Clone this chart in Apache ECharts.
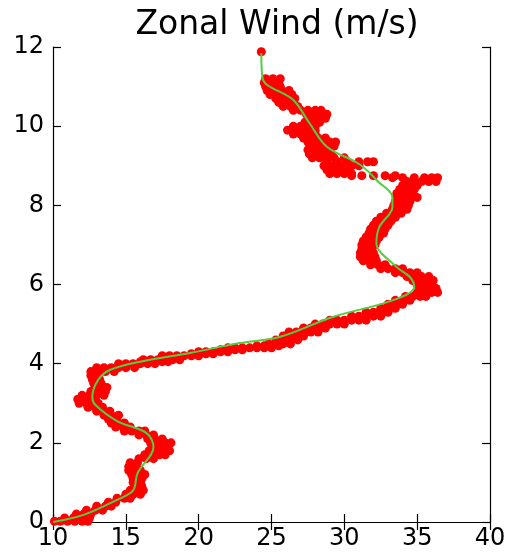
<!DOCTYPE html>
<html>
<head>
<meta charset="utf-8">
<script src="https://cdn.jsdelivr.net/npm/echarts@6/dist/echarts.min.js"></script>
<style>
  html, body { margin: 0; padding: 0; background: #fff; }
  #chart { width: 510px; height: 556px; }
</style>
</head>
<body>
<div id="chart"></div>
<script>
"use strict";

var titleText = "Zonal Wind (m/s)";
var xTicks = [10, 15, 20, 25, 30, 35, 40];
var yTicks = [0, 2, 4, 6, 8, 10, 12];

// observed wind (m/s), grouped by height level (km)
var obsLevels = [0.02, 0.1, 0.2, 0.3, 0.4, 0.5, 0.6, 0.7, 0.8, 0.9,
    1.0, 1.1, 1.2, 1.3, 1.4, 1.5, 1.6, 1.7, 1.8, 1.9,
    2.0, 2.1, 2.2, 2.3, 2.4, 2.5, 2.6, 2.7, 2.8, 2.9,
    3.0, 3.1, 3.2, 3.3, 3.4, 3.5, 3.6, 3.7, 3.8, 3.9,
    4.0, 4.05, 4.1, 4.2, 4.25, 4.3, 4.35, 4.4, 4.45, 4.5,
    4.6, 4.7, 4.8, 4.9, 5.0, 5.1, 5.2, 5.3, 5.4, 5.5,
    5.6, 5.7, 5.8, 5.9, 6.0, 6.1, 6.2, 6.3, 6.4, 6.5,
    6.6, 6.7, 6.8, 6.9, 7.0, 7.1, 7.2, 7.3, 7.4, 7.5,
    7.6, 7.7, 7.8, 7.9, 8.0, 8.1, 8.2, 8.3, 8.4, 8.5,
    8.6, 8.7, 8.75, 8.8, 8.9, 9.0, 9.1, 9.2, 9.3, 9.4,
    9.5, 9.6, 9.7, 9.8, 9.9, 10.0, 10.1, 10.2, 10.3, 10.4,
    10.5, 10.6, 10.7, 10.8, 10.9, 11.0, 11.1, 11.2, 11.88];
var obsWinds = [
    [10.1, 10.5, 11.0, 11.5, 12.0, 12.4], [10.8, 11.4, 12.0, 12.5], [11.6, 12.1, 12.6],
    [12.3, 12.9, 13.4], [13.0, 13.6, 14.0], [13.8, 14.3], [14.4, 14.9, 15.3],
    [15.0, 15.5, 16.0], [15.3, 15.8, 16.2], [15.6, 16.1],
    [15.5, 16.0], [15.5, 16.1], [15.4, 15.9, 16.3], [15.2, 15.7, 16.0], [15.2, 15.7],
    [15.3, 15.8], [15.9, 16.4, 16.9], [16.3, 16.8, 17.3, 17.7], [16.6, 17.1, 17.6, 18.0], [16.8, 17.3, 17.8],
    [16.7, 17.2, 17.7, 18.1], [16.5, 17.0, 17.5], [15.9, 16.4, 16.9], [14.9, 15.4, 15.9, 16.3], [14.3, 14.8, 15.3],
    [14.0, 14.5, 14.9], [13.8, 14.3], [13.5, 14.0, 14.5], [13.0, 13.5, 13.9], [12.4, 12.9, 13.4],
    [11.8, 12.3, 12.8, 13.1], [11.7, 12.2, 12.7], [12.0, 12.5, 13.0, 13.5], [12.6, 13.1, 13.6], [12.9, 13.4, 13.7],
    [12.8, 13.3], [12.7, 13.2], [12.6, 13.1], [12.6, 13.1, 13.6, 14.2], [13.0, 13.5, 14.0, 14.5, 15.0, 15.6],
    [14.5, 15.0, 15.5, 16.0, 16.5, 17.0], [16.0, 17.5, 17.9], [16.2, 16.7, 17.2, 17.7, 18.2, 18.7],
    [17.5, 18.0, 18.5, 19.0, 19.5, 20.0], [19.5, 20.5, 21.0], [20.0, 20.5, 21.0, 21.5, 22.0],
    [21.5, 22.0, 22.5, 23.0], [22.0, 22.5, 23.0, 23.5, 24.0, 24.5, 25.0], [24.0, 24.5, 25.0, 25.5],
    [24.8, 25.3, 25.8, 26.3],
    [25.3, 25.8, 26.3, 26.8], [25.8, 26.3, 26.8, 27.2], [26.2, 26.7, 27.2, 27.7, 28.2], [27.2, 27.7, 28.2, 28.7],
    [28.0, 28.5, 29.0, 29.5, 30.0], [29.0, 29.5, 30.0, 30.5, 31.0, 31.5], [30.5, 31.0, 31.5, 32.0, 32.5],
    [31.5, 32.0, 32.5, 33.0], [32.5, 33.0, 33.5], [33.0, 33.5, 34.0],
    [33.5, 34.0, 34.5], [34.2, 34.7, 35.2, 35.6], [35.0, 35.5, 36.0, 36.4], [35.3, 35.8, 36.3], [35.0, 35.5, 36.0],
    [34.7, 35.2, 35.7, 36.1], [34.3, 34.8, 35.3, 35.8], [33.5, 34.0, 34.5, 35.0], [32.5, 33.0, 33.5, 34.0],
    [31.8, 32.3, 32.8],
    [31.3, 31.8, 32.2], [31.1, 31.6, 32.1], [31.1, 31.6, 32.0], [31.2, 31.7], [31.2, 31.7, 32.1],
    [31.3, 31.8, 32.2], [31.5, 32.0, 32.4], [31.7, 32.2, 32.7], [31.8, 32.3, 32.8], [32.0, 32.5, 33.0],
    [32.2, 32.7, 33.2], [32.5, 33.0, 33.5], [32.9, 33.4, 33.9], [33.3, 33.8, 34.3], [33.4, 33.9, 34.4],
    [33.5, 34.0, 34.5], [33.6, 34.1, 34.6, 35.0], [33.6, 34.1, 34.6], [33.8, 34.3, 34.8], [34.0, 34.5, 35.0],
    [34.3, 34.8, 35.3, 35.8, 36.3], [33.3, 34.0, 34.8, 35.5, 36.0, 36.4], [30.5, 31.2, 32.0, 32.8, 33.5],
    [29.0, 29.5, 30.0, 30.5], [28.8, 29.3, 29.8, 30.3], [28.6, 29.2, 29.8, 30.5, 31.0],
    [28.8, 29.5, 30.2, 31.0, 31.6, 32.0], [27.8, 28.3, 28.8, 29.3, 30.0], [27.6, 28.1, 28.6, 29.1], [27.5, 28.0, 28.5, 29.0],
    [27.8, 28.3, 28.8, 29.3], [27.5, 28.0, 28.5, 29.0, 29.4], [27.2, 27.7, 28.2, 28.7], [26.5, 27.0, 27.5, 28.0],
    [26.1, 26.6, 27.1, 27.6, 28.0], [26.5, 27.0, 27.5, 28.0], [27.3, 27.8, 28.3], [27.7, 28.2, 28.7],
    [27.4, 27.9, 28.4, 28.8], [26.5, 27.0, 27.5, 28.0, 28.4],
    [25.8, 26.3, 26.8], [25.5, 26.0, 26.5], [25.3, 25.8, 26.3, 26.6], [24.9, 25.4, 25.9, 26.4],
    [24.7, 25.2, 25.7, 26.2], [24.6, 25.1, 25.6], [24.5, 25.0, 25.5], [24.6, 25.1, 25.6], [24.3]
];

// smoothed profile
var fitHeight = [0, 0.18, 0.56, 0.8, 1.23, 1.9, 2.25, 2.55, 2.96, 3.16, 3.59, 3.84, 4.05, 4.27, 4.52, 4.68,
    5.18, 5.6, 5.94, 6.19, 6.44, 7.05, 7.45, 7.96, 8.2, 8.64, 8.8, 9.07, 9.48, 10.08, 10.66, 11.2, 11.85];
var fitWind = [10.0, 12.1, 14.4, 15.5, 15.8, 16.9, 16.4, 14.4, 12.9, 12.7, 13.1, 13.9, 16.0, 19.4, 22.8, 25.6,
    29.2, 33.3, 34.8, 34.5, 33.6, 32.2, 32.4, 33.3, 33.3, 32.2, 31.8, 30.9, 28.8, 27.6, 26.5, 24.4, 24.3];

var obsPoints = [];
obsLevels.forEach(function (h, i) {
    obsWinds[i].forEach(function (w) { obsPoints.push([w, h]); });
});
var fitPoints = fitHeight.map(function (h, i) { return [fitWind[i], h]; });

var font = "DejaVu Sans";
var axisCommon = {
    axisLine: { lineStyle: { color: "#000", width: 1.2 } },
    axisTick: { inside: true, length: 8, lineStyle: { color: "#000", width: 1.2 } },
    splitLine: { show: false }
};

var chart = echarts.init(document.getElementById("chart"));
chart.setOption({
    animation: false,
    backgroundColor: "#fff",
    title: {
        text: titleText, left: 272, top: 4, textAlign: "center",
        textStyle: { fontFamily: font, fontSize: 33, fontWeight: "normal", color: "#000" }
    },
    grid: { left: 53, right: 20, top: 47, bottom: 34 },
    xAxis: [
        Object.assign({
            type: "value", position: "bottom", min: xTicks[0], max: xTicks[xTicks.length - 1], interval: 5,
            axisLabel: { fontFamily: font, fontSize: 24, color: "#000", margin: 5 }
        }, axisCommon),
        Object.assign({
            type: "value", position: "top", min: xTicks[0], max: xTicks[xTicks.length - 1], interval: 5,
            axisLabel: { show: false }
        }, axisCommon)
    ],
    yAxis: [
        Object.assign({
            type: "value", position: "left", min: yTicks[0], max: yTicks[yTicks.length - 1], interval: 2,
            axisLabel: { fontFamily: font, fontSize: 24, color: "#000", margin: 9 }
        }, axisCommon),
        Object.assign({
            type: "value", position: "right", min: yTicks[0], max: yTicks[yTicks.length - 1], interval: 2,
            axisLabel: { show: false }
        }, axisCommon)
    ],
    series: [
        {
            name: "observed", type: "scatter", data: obsPoints,
            symbol: "circle", symbolSize: 9,
            itemStyle: { color: "#ff0000", opacity: 1 }, z: 2
        },
        {
            name: "smoothed", type: "line", data: fitPoints,
            showSymbol: false, smooth: 0.35,
            lineStyle: { color: "#55cc44", width: 2 }, z: 3
        }
    ]
});
</script>
</body>
</html>
